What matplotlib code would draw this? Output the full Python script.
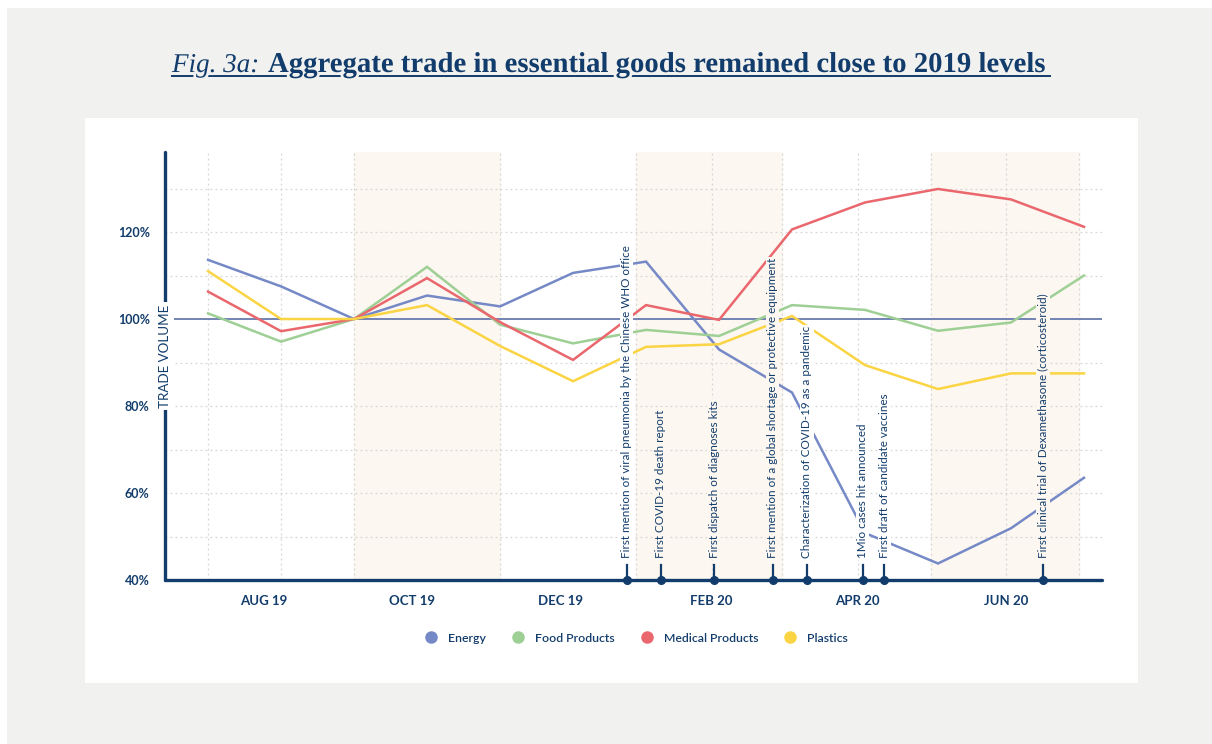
import pandas as pd
import matplotlib
matplotlib.use("Agg")
import matplotlib.pyplot as plt
import matplotlib.dates as mdates
import matplotlib.patheffects as pe
from matplotlib.patches import Rectangle
from matplotlib.lines import Line2D

# Données (indice 100 = septembre 2019)
dates = ["2019-07-09", "2019-08-08", "2019-09-07", "2019-10-07", "2019-11-06", "2019-12-06",
         "2020-01-05", "2020-02-04", "2020-03-05", "2020-04-04", "2020-05-04", "2020-06-03", "2020-07-03"]
energy = [113.6, 107.5, 100, 105.4, 102.9, 110.6, 113.2, 93.0, 83.1, 50.8, 43.8, 51.9, 63.5]
food = [101.3, 94.8, 100, 112.0, 98.7, 94.4, 97.5, 96.1, 103.2, 102.1, 97.3, 99.2, 110.0]
medical = [106.3, 97.2, 100, 109.4, 99.3, 90.6, 103.2, 99.8, 120.6, 126.8, 129.9, 127.5, 121.2]
plastics = [111.0, 100, 100, 103.2, 93.8, 85.7, 93.6, 94.2, 100.7, 89.4, 83.9, 87.5, 87.5]

series_names = ["Energy", "Food Products", "Medical Products", "Plastics"]
series_colors = ["#7689c7", "#9ecf95", "#e9676d", "#fbd443"]

event_dates = ["2019-12-28", "2020-01-11", "2020-02-02", "2020-02-26",
               "2020-03-11", "2020-04-03", "2020-04-12", "2020-06-16"]
event_labels = ["First mention of viral pneumonia by the Chinese WHO office",
                "First COVID-19 death report",
                "First dispatch of diagnoses kits",
                "First mention of a global shortage or protective equipment",
                "Characterization of COVID-19 as a pandemic",
                "1Mio cases hit announced",
                "First draft of candidate vaccines",
                "First clinical trial of Dexamethasone (corticosteroid)"]

band_starts = ["2019-09-07", "2020-01-01", "2020-05-01"]
band_ends = ["2019-11-06", "2020-03-01", "2020-07-01"]
grid_dates = ["2019-07-09", "2019-08-08", "2019-09-07", "2019-11-06", "2020-01-01", "2020-02-01",
              "2020-03-01", "2020-04-01", "2020-05-01", "2020-06-01", "2020-07-01"]
month_ticks = ["2019-08-01", "2019-10-01", "2019-12-01", "2020-02-01", "2020-04-01", "2020-06-01"]
month_labels = ["AUG 19", "OCT 19", "DEC 19", "FEB 20", "APR 20", "JUN 20"]
y_ticks = [40, 60, 80, 100, 120]

NAVY = "#123c6b"
BAND = "#fcf7f0"
W, H = 1212, 744

plt.rcParams["font.family"] = ["Lato", "DejaVu Sans"]

def d(s):
    return mdates.date2num(pd.Timestamp(s))

x = [d(s) for s in dates]

fig = plt.figure(figsize=(W / 100, H / 100), dpi=100)
fig.patch.set_facecolor("white")
fig.patches.append(Rectangle((7 / W, 0), 1 - 7 / W, 1 - 8 / H, transform=fig.transFigure,
                             facecolor="#f1f1ef", edgecolor="none", zorder=-10))
fig.patches.append(Rectangle((85 / W, 1 - 683 / H), (1138 - 85) / W, (683 - 118) / H,
                             transform=fig.transFigure, facecolor="white", edgecolor="none", zorder=-9))

# Titre
title_y = 1 - 72 / H
halo = [pe.Stroke(linewidth=4, foreground="#f1f1ef"), pe.Normal()]
fig.text(172 / W, title_y, "Fig. 3a:", family="Liberation Serif", style="italic", fontsize=19.5,
         color=NAVY, va="baseline", ha="left", zorder=3, path_effects=halo)
fig.text(268 / W, title_y, "Aggregate trade in essential goods remained close to 2019 levels",
         family="Liberation Serif", weight="bold", fontsize=20.7, color=NAVY, va="baseline",
         ha="left", zorder=3, path_effects=halo)
fig.lines.append(Line2D([172 / W, 1050 / W], [1 - 76 / H, 1 - 76 / H], transform=fig.transFigure,
                        color=NAVY, lw=1.4, zorder=2))

ax = fig.add_axes([165 / W, 1 - 580 / H, (1102 - 165) / W, (580 - 152) / H])
ax.set_facecolor("none")
anchor = d("2020-03-11")
ax.set_xlim(anchor - 263.7, anchor + 121.4)
ax.set_ylim(40, 138.4)

# Bandes
for a, b in zip(band_starts, band_ends):
    ax.axvspan(d(a), d(b), color=BAND, zorder=0)

# Grille
for g in grid_dates:
    ax.axvline(d(g), color="#d6d6d6", lw=0.9, ls=(0, (1.5, 2.5)), zorder=1)
for v in range(50, 140, 10):
    if v != 100:
        ax.axhline(v, color="#d6d6d6", lw=0.9, ls=(0, (1.5, 2.5)), zorder=1)
ax.axhline(100, xmin=0.01, color="#687aae", lw=1.3, zorder=2)

for vals, name, col in zip([energy, food, medical, plastics], series_names, series_colors):
    ax.plot(x, vals, color=col, lw=1.8, label=name, zorder=3, solid_joinstyle="miter")

# Événements
bands = [(d(a), d(b)) for a, b in zip(band_starts, band_ends)]
for s, lab in zip(event_dates, event_labels):
    xd = d(s)
    inside = any(a <= xd <= b for a, b in bands)
    ax.plot([xd, xd], [40, 43.4], color=NAVY, lw=1.6, clip_on=False, zorder=6)
    ax.plot([xd], [40], "o", color=NAVY, ms=5.5, clip_on=False, zorder=7)
    ax.text(xd, 45.0, lab, rotation=90, ha="center", va="bottom", fontsize=8.4, color=NAVY,
            zorder=5, bbox=dict(boxstyle="square,pad=0.12", facecolor=BAND if inside else "white",
                                edgecolor="none"))

for side in ["top", "right"]:
    ax.spines[side].set_visible(False)
for side in ["left", "bottom"]:
    ax.spines[side].set_color(NAVY)
    ax.spines[side].set_linewidth(2.4)
    ax.spines[side].set_capstyle("round")
    ax.spines[side].set_zorder(8)

ax.set_yticks(y_ticks)
ax.set_yticklabels([f"{v}%" for v in y_ticks])
ax.set_xticks([d(s) for s in month_ticks])
ax.set_xticklabels(month_labels)
ax.tick_params(axis="both", length=0, colors=NAVY)
ax.tick_params(axis="y", pad=11, labelsize=9)
ax.tick_params(axis="x", pad=11, labelsize=9.5)
for t in ax.get_xticklabels() + ax.get_yticklabels():
    t.set_fontweight("bold")

ax.text(ax.get_xlim()[0], 91.5, "TRADE VOLUME", rotation=90, ha="center", va="center",
        fontsize=9.6, color=NAVY, zorder=9,
        bbox=dict(boxstyle="square,pad=0.2", facecolor="white", edgecolor="none"))

handles = [Line2D([], [], marker="o", ls="none", color=c, ms=8) for c in series_colors]
ax.legend(handles, series_names, loc="center", ncol=4, frameon=False,
          bbox_to_anchor=(0.5, -(638 - 580) / (580 - 152)), handletextpad=0.4,
          columnspacing=1.6, prop=dict(size=8.8, weight="semibold"), labelcolor=NAVY)

fig.savefig("out.png", dpi=100)
